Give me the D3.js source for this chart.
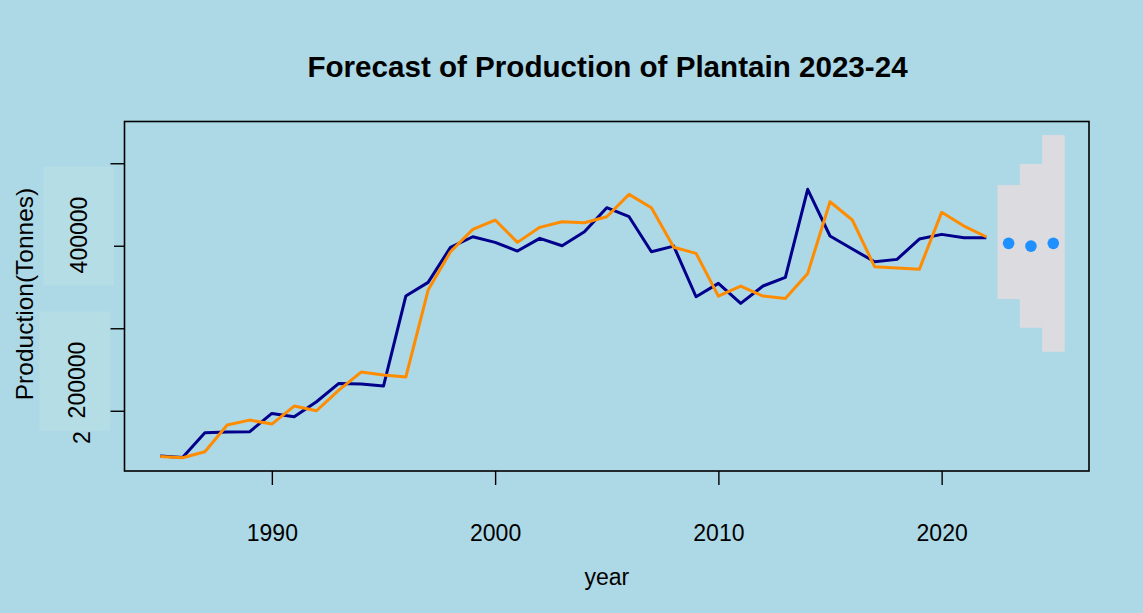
<!DOCTYPE html>
<html>
<head>
<meta charset="utf-8">
<script src="https://cdn.jsdelivr.net/npm/d3@7"></script>
<style>
  html, body { margin: 0; padding: 0; background: #add8e6; }
  svg { display: block; }
  text { font-family: "Liberation Sans", Arial, Helvetica, sans-serif; fill: #000; }
</style>
</head>
<body>
<svg id="chart" width="1143" height="613"></svg>
<script>
// ---- data ----
const years = [1985,1986,1987,1988,1989,1990,1991,1992,1993,1994,1995,1996,1997,1998,1999,2000,2001,2002,2003,2004,2005,2006,2007,2008,2009,2010,2011,2012,2013,2014,2015,2016,2017,2018,2019,2020,2021,2022];
const actual = [145100,143500,173300,174200,174500,196800,192700,210900,233200,232400,229900,339000,355600,398100,410900,404100,393600,409000,400000,417000,446100,435200,392700,399600,338200,354400,330200,351200,361700,468400,411800,396000,380600,383500,408100,413800,409700,409700];
const fitted = [144700,143000,150300,182700,188700,183900,205700,200000,225100,246900,243300,240800,346300,392700,419900,431200,404100,422300,429100,427900,435200,462300,446100,398100,390800,339000,351200,339000,336200,366500,453300,431200,374500,373000,371400,440500,423900,410900];
const forecastYears = [2023,2024,2025];
const forecastMean = [402900,399600,402900];
const forecastLower = [335400,300600,271500];
const forecastUpper = [473600,499000,534200];
const xTicks = [1990,2000,2010,2020];
const yTicks = [200000,300000,400000,500000];
const yLabelTexts = ["400000","200000","2"];

const titleText = "Forecast of Production of Plantain 2023-24";
const xLabel = "year";
const yLabel = "Production(Tonnes)";

// ---- layout ----
const svg = d3.select("#chart");
const W = 1143, H = 613;
const plot = {left: 124.5, right: 1089, top: 121.5, bottom: 471};

svg.append("rect").attr("width", W).attr("height", H).attr("fill", "#add8e6");

const x = d3.scaleLinear().domain([1983.4, 2026.6]).range([plot.left, plot.right]);
const y = d3.scaleLinear().domain([127000, 550600]).range([plot.bottom, plot.top]);

// forecast interval
svg.append("g").selectAll("rect")
  .data(forecastYears.map((yr, i) => ({yr, lo: forecastLower[i], hi: forecastUpper[i]})))
  .join("rect")
  .attr("x", d => x(d.yr - 0.5))
  .attr("width", d => x(d.yr + 0.5) - x(d.yr - 0.5) + 0.3)
  .attr("y", d => y(d.hi))
  .attr("height", d => y(d.lo) - y(d.hi))
  .attr("fill", "#dcdbe0");

// lines
const line = d3.line().x(d => x(d[0])).y(d => y(d[1]));
svg.append("path")
  .datum(years.map((yr, i) => [yr, actual[i]]))
  .attr("d", line).attr("fill", "none")
  .attr("stroke", "#00008b").attr("stroke-width", 3).attr("stroke-linejoin", "round");
svg.append("path")
  .datum(years.map((yr, i) => [yr, fitted[i]]))
  .attr("d", line).attr("fill", "none")
  .attr("stroke", "#ff8c00").attr("stroke-width", 3).attr("stroke-linejoin", "round");

// forecast points
svg.append("g").selectAll("circle")
  .data(forecastYears.map((yr, i) => [yr, forecastMean[i]]))
  .join("circle")
  .attr("cx", d => x(d[0])).attr("cy", d => y(d[1])).attr("r", 5.8)
  .attr("fill", "#1e90ff");

// box
svg.append("rect")
  .attr("x", plot.left).attr("y", plot.top)
  .attr("width", plot.right - plot.left).attr("height", plot.bottom - plot.top)
  .attr("fill", "none").attr("stroke", "#000").attr("stroke-width", 1.6);

// x axis
const xAxis = svg.append("g").attr("transform", `translate(0,${plot.bottom})`)
  .call(d3.axisBottom(x).tickValues(xTicks).tickFormat(d3.format("d")).tickSize(14).tickPadding(40));
xAxis.select(".domain").remove();
xAxis.selectAll("line").attr("stroke", "#000").attr("stroke-width", 1.4);
xAxis.selectAll("text").attr("font-size", 23).attr("font-family", "Liberation Sans, Arial, sans-serif").attr("fill", "#000");

// y axis (ticks only)
const yAxis = svg.append("g").attr("transform", `translate(${plot.left},0)`)
  .call(d3.axisLeft(y).tickValues(yTicks).tickFormat("").tickSize(14));
yAxis.select(".domain").remove();
yAxis.selectAll("line").attr("stroke", "#000").attr("stroke-width", 1.4);

// y tick label patches (as in reference)
const patches = [
  {x: 43.3, y: 166.7, w: 70.7, h: 119},
  {x: 39.3, y: 311.7, w: 70.7, h: 119}
];
svg.append("g").selectAll("rect").data(patches).join("rect")
  .attr("x", d => d.x).attr("y", d => d.y).attr("width", d => d.w).attr("height", d => d.h)
  .attr("fill", "#b5dde6");

const yLabelPos = [{cx: 79, cy: 235}, {cx: 77, cy: 380}, {cx: 81.5, cy: 437.5}];
svg.append("g").selectAll("text").data(yLabelTexts).join("text")
  .attr("transform", (d, i) => `translate(${yLabelPos[i].cx + 8.3},${yLabelPos[i].cy}) rotate(-90)`)
  .attr("text-anchor", "middle")
  .attr("font-size", 23)
  .text(d => d);

// titles
svg.append("text").attr("x", 607.5).attr("y", 77)
  .attr("text-anchor", "middle").attr("font-size", 29.6).attr("font-weight", "bold")
  .text(titleText);
svg.append("text").attr("x", (plot.left + plot.right) / 2).attr("y", 585)
  .attr("text-anchor", "middle").attr("font-size", 23)
  .text(xLabel);
svg.append("text").attr("transform", `translate(33,294) rotate(-90)`)
  .attr("text-anchor", "middle").attr("font-size", 24.5)
  .text(yLabel);
</script>
</body>
</html>
